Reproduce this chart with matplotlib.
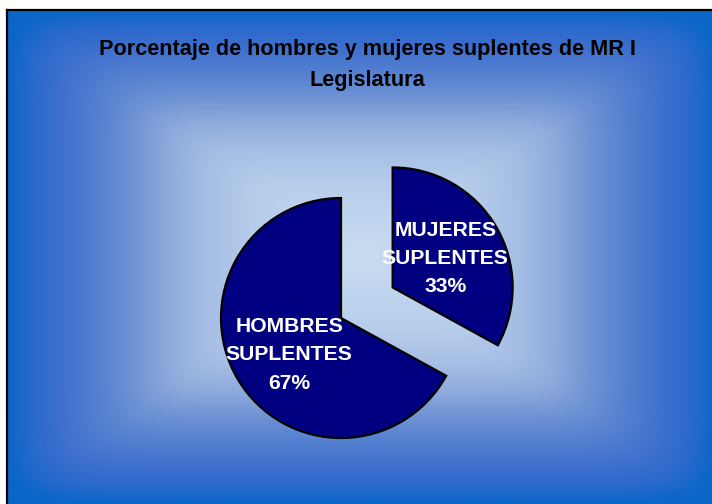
import numpy as np
import matplotlib
matplotlib.use("Agg")
import matplotlib.pyplot as plt
from matplotlib.colors import LinearSegmentedColormap

# ---- data ----
categories = ["MUJERES\nSUPLENTES", "HOMBRES\nSUPLENTES"]
values = [33, 67]
title = "Porcentaje de hombres y mujeres suplentes de MR I\nLegislatura"

W, H = 712, 504
plt.rcParams['font.family'] = ['Liberation Sans', 'DejaVu Sans']
fig = plt.figure(figsize=(W / 100, H / 100), dpi=100)
fig.patch.set_facecolor('white')

# ---- background frame with rectangular "from center" gradient ----
fx0, fy0, fx1, fy1 = 7, 10, 716, 504  # pixel box (y from top)
bg = fig.add_axes([fx0 / W, (H - fy1) / H, (fx1 - fx0) / W, (fy1 - fy0) / H])
nx, ny = 400, 300
u = np.linspace(-1, 1, nx)
v = np.linspace(-1, 1, ny)
U, V = np.meshgrid(u, v)
p = 13.0
T = np.clip((np.abs(U) ** p + np.abs(V) ** p) ** (1 / p), 0, 1)
cmap = LinearSegmentedColormap.from_list("bgcm", [
    (0.0, "#c9ddf1"), (0.3, "#b6cdeb"), (0.45, "#a4bce3"), (0.55, "#8eaadc"),
    (0.65, "#6e92d4"), (0.75, "#5480d0"), (0.85, "#3f70ce"), (0.93, "#2a6acc"),
    (1.0, "#0c66c8")])
bg.imshow(T, cmap=cmap, vmin=0, vmax=1, aspect='auto', interpolation='bilinear')
bg.set_xticks([]); bg.set_yticks([])
for s in ['right', 'bottom']:
    bg.spines[s].set_visible(False)
for s in ['left', 'top']:
    bg.spines[s].set_linewidth(1.6)
    bg.spines[s].set_color('black')

# ---- title ----
fig.text(367 / W, 1 - 65 / H, title, ha='center', va='center', fontsize=15.6,
         fontweight='bold', color='black', linespacing=1.62, multialignment='center')

# ---- pie (1 unit = radius = 120 px) ----
R = 120.0
cx, cy = 341.0, 318.0
ax = fig.add_axes([0, 0, 1, 1])
ax.patch.set_alpha(0)

labels = [f"{c}\n{v}%" for c, v in zip(categories, values)]
wedges, texts = ax.pie(values, labels=labels, startangle=90, counterclock=False,
                       explode=[0.5, 0.0], radius=1.0, labeldistance=0.52,
                       colors=['#000080', '#000080'],
                       wedgeprops=dict(edgecolor='black', linewidth=1.6),
                       frame=True)
ax.set_aspect('auto')
ax.set_xlim(-cx / R, (W - cx) / R)
ax.set_ylim(-(H - cy) / R, cy / R)
ax.axis('off')
shifts = [(-1 / R, -3 / R), (2 / R, -5 / R)]
for t, (dx, dy) in zip(texts, shifts):
    x0, y0 = t.get_position()
    t.set_position((x0 + dx, y0 + dy))
    t.set_ha('center'); t.set_va('center')
    t.set_multialignment('center')
    t.set_color('white'); t.set_fontweight('bold'); t.set_fontsize(15.2)
    t.set_linespacing(1.62)

fig.savefig("out.png", dpi=100)
